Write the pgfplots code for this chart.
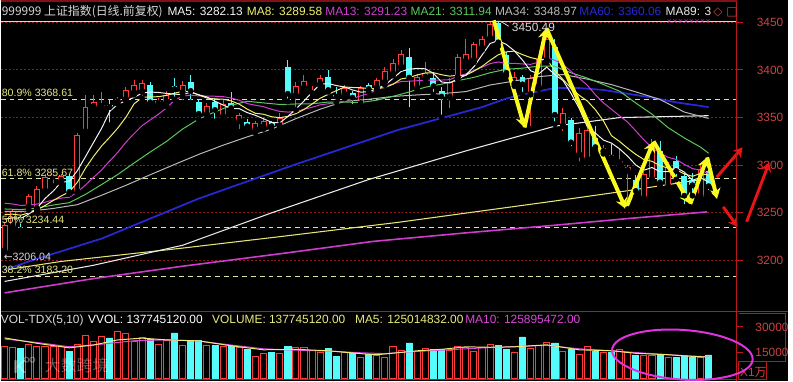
\documentclass[border=0pt]{standalone}
\usepackage{pgfplots}
\pgfplotsset{compat=1.18}
\usepackage{pgfplotstable}
\usetikzlibrary{arrows.meta}
\usepackage{fontspec}
\setmainfont{Liberation Sans}
\newfontfamily\cjk{Noto Sans CJK SC}
\newfontfamily\dvs{DejaVu Sans}

\definecolor{cred}{RGB}{255,60,60}
\definecolor{ccyan}{RGB}{84,252,252}
\definecolor{ma5}{RGB}{245,245,245}
\definecolor{ma8}{RGB}{240,240,110}
\definecolor{ma13}{RGB}{210,60,210}
\definecolor{ma21}{RGB}{90,200,90}
\definecolor{ma34}{RGB}{185,185,185}
\definecolor{ma60}{RGB}{40,40,215}
\definecolor{ma89}{RGB}{235,235,235}
\definecolor{lyel}{RGB}{230,230,120}
\definecolor{lmag}{RGB}{205,60,205}
\definecolor{fib}{RGB}{225,225,160}
\definecolor{fibtxt}{RGB}{230,230,130}
\definecolor{axred}{RGB}{185,25,25}
\definecolor{gridred}{RGB}{140,30,30}
\definecolor{lblred}{RGB}{205,65,65}
\definecolor{hdr}{RGB}{215,215,215}
\definecolor{zig}{RGB}{250,250,30}
\definecolor{arrred}{RGB}{235,20,20}
\definecolor{vma5}{RGB}{235,235,120}
\definecolor{vma10}{RGB}{220,70,220}
\definecolor{ellmag}{RGB}{225,50,225}

% up candles (close >= open): index, open, high, low, close, volume (x10^4)
\pgfplotstableread{
i o h l c v
0 3210 3240 3206.04 3237 18850
1 3235 3254 3232 3252 17880
3 3256 3270 3253 3268 19800
4 3254 3278 3252 3275 18850
5 3273 3291 3272 3288 18850
6 3288 3294 3278 3291 18850
7 3283 3291 3280 3289 18460
9 3272 3334 3270 3332 19800
10 3335 3374 3333 3361 24990
11 3361 3374 3358 3366 21730
12 3361 3377 3358 3363 24230
14 3366 3372 3364 3369 27500
15 3369 3382 3367 3379 25960
16 3376 3389 3374 3384 21350
17 3377 3389 3370 3386 23650
19 3364 3371 3360 3367 19800
20 3366 3378 3362 3374 22310
22 3376 3388 3372 3384 19230
25 3353 3365 3350 3362 19230
27 3351 3368 3348 3364 18850
29 3346 3355 3335 3353 17880
31 3337 3346 3334 3344 13080
32 3340 3350 3338 3346 14420
34 3341 3355 3340 3350 14610
36 3373 3387 3358 3383 17880
37 3381 3395 3379 3388 17880
38 3386 3388 3376 3387 16350
39 3385 3395 3383 3392 15380
42 3374 3384 3370 3381 15380
44 3364 3383 3361 3381 12500
46 3381 3392 3379 3389 13650
47 3387 3403 3384 3399 12110
48 3396 3412 3394 3407 18460
49 3403 3421 3402 3417 16540
51 3381 3396 3379 3393 15580
52 3392 3408 3390 3397 17500
55 3371 3392 3357 3387 16350
56 3392 3417 3390 3414 18850
57 3409 3433 3408 3417 18270
58 3410 3429 3408 3427 15580
59 3423 3436 3421 3433 18270
60 3433 3450 3432 3448 19800
63 3385 3398 3383 3393 15380
65 3374 3395 3338 3392 17310
66 3382 3415 3380 3412 19230
67 3410 3436 3408 3433 21150
69 3341 3360 3333 3355 15970
71 3311 3339 3301 3334 14040
72 3306 3340 3303 3337 18460
74 3314 3321 3312 3318 15000
76 3302 3317 3301 3304 16920
77 3294 3300 3254 3298 15380
79 3265 3294 3259 3291 13650
80 3285 3327 3281 3322 13650
82 3277 3303 3274 3298 12110
86 3267 3300 3264 3296 12500
}\upc

% down candles (close < open)
\pgfplotstableread{
i o h l c v
2 3246 3248 3232 3242 17310
8 3289 3291 3270 3272 15970
13 3363 3369 3342 3361 23650
18 3384 3387 3364 3366 22690
21 3383 3392 3369 3380 26540
23 3387 3395 3366 3378 22310
24 3366 3369 3348 3354 22310
26 3366 3371 3346 3358 19230
28 3365 3377 3358 3360 19230
30 3345 3348 3335 3341 16920
33 3345 3346 3337 3341 15380
35 3403 3410 3367 3375 18850
40 3393 3400 3377 3379 17310
41 3374 3382 3366 3372 13080
43 3376 3378 3361 3371 15380
45 3384 3386 3377 3380 14040
50 3414 3423 3358 3392 20770
53 3392 3398 3374 3383 16920
54 3378 3382 3350 3372 16920
61 3449 3450.49 3425 3429 19420
62 3416 3419 3394 3397 16920
64 3393 3395 3374 3385 24230
68 3424 3432 3343 3353 20770
70 3347 3350 3317 3324 16920
73 3329 3341 3315 3319 15970
75 3311 3322 3304 3308 15000
78 3285 3290 3267 3273 13460
81 3315 3325 3278 3282 13460
83 3304 3310 3285 3294 12500
84 3289 3292 3256 3268 13460
85 3284 3292 3268 3279 12500
87 3294 3298 3271 3278 13775
}\dnc

% short moving averages
\pgfplotstableread{
i ma5 ma8 ma13
0 3243.4 3248.4 3260.1
1 3244.8 3248.6 3259.3
2 3244.2 3247.6 3257.8
3 3248.8 3249.9 3258.2
4 3254.8 3253.0 3259.2
5 3265.0 3257.7 3261.2
6 3272.8 3262.9 3263.5
7 3282.2 3267.7 3265.5
8 3283.0 3272.1 3266.3
9 3294.4 3282.1 3271.7
10 3309.0 3297.0 3279.3
11 3324.0 3309.3 3287.3
12 3338.8 3320.3 3295.1
13 3356.6 3329.4 3304.6
14 3364.0 3339.1 3313.6
15 3367.6 3350.4 3324.2
16 3371.2 3364.4 3333.1
17 3375.8 3371.1 3341.6
18 3376.8 3371.8 3347.6
19 3376.4 3371.9 3353.5
20 3375.4 3373.3 3360.0
21 3374.6 3375.6 3368.3
22 3374.2 3377.5 3372.3
23 3376.6 3377.4 3373.6
24 3374.0 3373.6 3372.7
25 3371.6 3370.6 3372.6
26 3367.2 3369.6 3372.4
27 3363.2 3369.3 3372.0
28 3359.6 3367.5 3370.5
29 3359.4 3364.1 3368.2
30 3355.2 3358.8 3364.7
31 3352.4 3354.5 3363.0
32 3348.8 3353.5 3361.4
33 3345.0 3350.9 3358.8
34 3344.4 3349.9 3356.5
35 3351.2 3351.3 3355.8
36 3359.0 3354.1 3356.2
37 3367.4 3358.5 3358.8
38 3376.6 3364.3 3360.8
39 3385.0 3370.3 3363.4
40 3385.8 3374.4 3364.5
41 3383.6 3378.3 3365.5
42 3382.2 3382.1 3367.6
43 3379.0 3381.6 3369.9
44 3376.8 3381.4 3372.8
45 3377.0 3380.4 3375.4
46 3380.4 3380.6 3379.1
47 3384.0 3381.5 3382.8
48 3391.2 3385.0 3385.3
49 3398.4 3390.6 3387.9
50 3400.8 3392.0 3388.2
51 3401.6 3394.8 3388.7
52 3401.2 3396.8 3389.1
53 3396.4 3397.1 3389.4
54 3387.4 3395.0 3389.4
55 3386.4 3393.5 3389.8
56 3390.6 3394.4 3393.2
57 3394.6 3394.4 3395.9
58 3403.4 3398.8 3399.5
59 3415.6 3403.8 3402.9
60 3427.8 3410.1 3406.7
61 3430.8 3415.9 3408.4
62 3426.8 3419.0 3406.8
63 3420.0 3419.8 3406.9
64 3410.4 3416.1 3406.3
65 3399.2 3413.0 3405.9
66 3395.8 3411.1 3408.2
67 3403.0 3411.1 3412.8
68 3395.0 3399.3 3410.2
69 3389.0 3390.0 3405.7
70 3375.4 3380.9 3398.5
71 3359.8 3373.5 3391.4
72 3340.6 3367.5 3384.0
73 3333.8 3358.4 3374.1
74 3326.4 3346.6 3365.5
75 3323.2 3331.0 3358.7
76 3317.2 3324.9 3351.8
77 3309.4 3317.8 3345.2
78 3300.2 3311.4 3336.0
79 3294.8 3306.0 3326.7
80 3297.6 3304.1 3318.2
81 3293.2 3299.5 3312.7
82 3293.2 3297.0 3308.3
83 3297.4 3295.3 3306.0
84 3292.8 3290.8 3300.9
85 3284.2 3288.4 3296.5
86 3287.0 3291.3 3294.7
87 3282.1 3289.6 3291.2
}\matab

\pgfplotsset{
  candle/.style args={#1/#2}{only marks, mark=none, forget plot,
    error bars/.cd, y dir=plus, y explicit, error mark=none,
    error bar style={solid, line width=#2, draw=#1}},
}

\begin{document}
\begin{tikzpicture}
\fill[black] (0,0) rectangle (594.75pt,287.25pt);

% ---------------- price panel ----------------
\begin{axis}[
  at={(0pt,52.5pt)}, anchor=south west, scale only axis,
  width=556.5pt, height=234.75pt,
  xmin=-0.4905, xmax=90.497, ymin=3146.88, ymax=3472.92,
  clip=false,
  axis line style={draw=none},
  xtick=\empty,
  ytick={3200,3250,3300,3350,3400,3450},
  ytick pos=right, yticklabel pos=right,
  tick align=outside, major tick length=4.5pt,
  tick style={draw=axred, line width=0.75pt},
  yticklabel style={font=\fontsize{9}{10}\selectfont, text=lblred, xshift=7pt},
  scaled y ticks=false,
  /pgf/number format/assume math mode=true,
  /pgf/number format/1000 sep={},
  ymajorgrids, grid style={gridred, dash pattern=on 1.5pt off 1.5pt, line width=0.75pt},
]
% Fibonacci levels
\addplot[fib, line width=0.75pt, dash pattern=on 3.75pt off 3pt] coordinates {(-0.49,3368.61) (90.49,3368.61)};
\addplot[fib, line width=0.75pt, dash pattern=on 3.75pt off 3pt] coordinates {(-0.49,3285.67) (90.49,3285.67)};
\addplot[fib, line width=0.75pt, dash pattern=on 3.75pt off 3pt] coordinates {(-0.49,3234.44) (90.49,3234.44)};
\addplot[fib, line width=0.75pt, dash pattern=on 3.75pt off 3pt] coordinates {(-0.49,3183.20) (90.49,3183.20)};
\addplot[fib, line width=0.9pt] coordinates {(-0.49,3450.49) (90.49,3450.49)};

% long moving averages
\addplot[lmag, line width=1.2pt] coordinates {(0,3166) (11,3181) (22,3194) (34,3207) (45.5,3220) (57,3229) (68,3237) (77,3244) (86.8,3251)};
\addplot[lyel, line width=0.8pt] coordinates {(0,3190) (7,3199) (22,3213) (34,3225) (48.6,3240) (67.6,3262) (76.8,3273) (86.9,3286)};
\addplot[ma89, line width=0.8pt] coordinates {(0,3178) (11,3195) (22,3216) (33,3250) (45,3285) (57,3315) (68,3341) (76,3350) (87,3352)};
\addplot[ma60, line width=1.3pt] coordinates {(0,3190) (3,3199) (12,3223) (24,3265) (36,3301) (48.6,3337) (59,3361) (62,3370) (65,3376) (68,3381) (71,3381) (74,3379) (77,3375) (80,3371) (83,3366) (87,3361)};

% candles: wicks, bodies
\addplot[candle=cred/0.75pt] table[x=i, y=l, y error expr=\thisrow{h}-\thisrow{l}] \upc;
\addplot[candle=ccyan/0.75pt] table[x=i, y=l, y error expr=\thisrow{h}-\thisrow{l}] \dnc;
\addplot[candle=cred/4.5pt] table[x=i, y=o, y error expr={max(\thisrow{c}-\thisrow{o},1.1)}] \upc;
\addplot[candle=black/3pt] table[x=i, y expr=\thisrow{o}+1.05, y error expr={max(\thisrow{c}-\thisrow{o}-2.1,0)}] \upc;
\addplot[candle=ccyan/4.5pt] table[x=i, y=c, y error expr={max(\thisrow{o}-\thisrow{c},1.1)}] \dnc;

% moving averages
\addplot[ma34, line width=0.75pt] coordinates {(0,3251.6) (3,3251.7) (6,3254.6) (9,3258.6) (12,3268.5) (15,3278.9) (18,3290) (21,3300.8) (24,3311.4) (27,3321) (30,3329.8) (33,3337.9) (36,3348.9) (39,3358.8) (42,3367.1) (45,3369.2) (48,3372.2) (51,3373.8) (54,3375.1) (57,3377.3) (60,3384.2) (63,3388.4) (66,3393) (69,3395.2) (72,3390.4) (75,3384.6) (78,3377) (81,3369) (84,3355.8) (87,3349.1)};
\addplot[ma21, line width=0.75pt] coordinates {(0,3254.1) (2,3253.4) (4,3255) (6,3258.2) (8,3260.7) (10,3269.4) (12,3279.8) (14,3290.3) (16,3302.3) (18,3313.9) (20,3324.9) (22,3338) (24,3348.5) (26,3356) (28,3362.9) (30,3367.1) (32,3365.4) (34,3363.8) (36,3364.3) (38,3364.5) (40,3366.3) (42,3366.3) (44,3365.8) (46,3368.3) (48,3372.3) (50,3376.9) (52,3381.9) (54,3385.1) (56,3388.8) (58,3392.2) (60,3397.1) (62,3400.7) (64,3401.9) (66,3404) (68,3403.9) (70,3397) (72,3391.5) (74,3384.7) (76,3377.7) (78,3365.3) (80,3353.6) (82,3339.4) (84,3328.6) (86,3319) (87,3312.6)};
\addplot[ma13, line width=0.75pt] table[x=i, y=ma13] \matab;
\addplot[ma8, line width=0.75pt] table[x=i, y=ma8] \matab;
\addplot[ma5, line width=0.75pt] table[x=i, y=ma5] \matab;

% hand-drawn annotations
\addplot[zig, line width=3pt, -{Stealth[length=8pt,width=9pt]}] coordinates {(60.45,3452.1) (64.25,3339.6)};
\addplot[zig, line width=3pt, -{Stealth[length=8pt,width=9pt]}] coordinates {(64.25,3339.6) (66.95,3443.8)};
\addplot[zig, line width=3pt, -{Stealth[length=8pt,width=9pt]}] coordinates {(66.95,3443.8) (76.76,3254.2)};
\addplot[zig, line width=3pt, -{Stealth[length=8pt,width=9pt]}] coordinates {(76.76,3254.2) (80.2,3325.0)};
\addplot[zig, line width=3pt, -{Stealth[length=8pt,width=9pt]}] coordinates {(80.2,3325.0) (84.73,3259.4)};
\addplot[zig, line width=3pt, -{Stealth[length=8pt,width=9pt]}] coordinates {(84.73,3259.4) (86.82,3308.3)};
\addplot[zig, line width=3pt, -{Stealth[length=8pt,width=9pt]}] coordinates {(86.82,3308.3) (88.04,3264.6)};
\addplot[arrred, line width=2.2pt, -{Stealth[length=7pt,width=8pt]}] coordinates {(88.0,3287.5) (91.2,3318.7)};
\addplot[arrred, line width=2.2pt, -{Stealth[length=7pt,width=8pt]}] coordinates {(88.8,3256.3) (90.6,3235.4)};
\addplot[arrred, line width=2.2pt, -{Stealth[length=7pt,width=8pt]}] coordinates {(91.7,3240.6) (94.5,3303.1)};
\end{axis}

% ---------------- volume panel ----------------
\begin{axis}[
  at={(0pt,0pt)}, anchor=south west, scale only axis,
  width=556.5pt, height=52.5pt,
  xmin=-0.4905, xmax=90.497, ymin=-1154, ymax=39229,
  axis line style={draw=none},
  xtick=\empty,
  ytick={15000,30000},
  ytick pos=right, yticklabel pos=right,
  tick align=outside, major tick length=4.5pt,
  tick style={draw=axred, line width=0.75pt},
  yticklabel style={font=\fontsize{9}{10}\selectfont, text=lblred, xshift=6pt},
  scaled y ticks=false,
  /pgf/number format/assume math mode=true,
  /pgf/number format/1000 sep={},
]
\addplot[ybar, bar width=4.6pt, bar shift=0pt, draw=cred, fill=black, line width=0.75pt] table[x=i, y=v] \upc;
\addplot[ybar, bar width=4.6pt, bar shift=0pt, draw=ccyan, fill=ccyan, line width=0.5pt] table[x=i, y=v] \dnc;
\addplot[vma10, line width=0.75pt] coordinates {(0,23000) (4,21000) (8,18500) (12,20000) (16,22000) (20,22500) (24,21800) (28,19500) (32,17300) (36,16500) (40,16000) (44,15000) (47,14500) (51,15800) (55,16800) (59,17800) (63,18600) (67,19300) (71,17300) (75,16200) (79,14800) (83,13600) (87,12590)};
\addplot[vma5, line width=0.75pt] coordinates {(0,23650) (4,20500) (8,17880) (11,19500) (14,22500) (17,23500) (20,22500) (24,21900) (28,19040) (32,16730) (36,17000) (40,16150) (44,14500) (46,13850) (51,16150) (54,17000) (57,18460) (60,18200) (63,18460) (67,19610) (71,16730) (75,16150) (78,14700) (82,13850) (85,12900) (87,12502)};
\end{axis}

% ---------------- frame, texts, decorations ----------------
\begin{scope}[x=0.75pt, y=0.75pt]
\draw[axred, line width=0.75pt] (742,0) -- (742,383);
\draw[axred!70!black, line width=0.9pt] (0,382.5) -- (742,382.5);
\draw[axred, line width=0.75pt] (0,70) -- (793,70);
\draw[axred, line width=0.75pt] (0,1) -- (742,1);
\draw[axred, line width=0.75pt] (744,68) -- (791,68) -- (791,19) -- (744,19);
\draw[axred, line width=0.75pt] (744,19) rectangle (772,1);
\node[anchor=base west, inner sep=0, text=lblred, font=\fontsize{9}{10}\selectfont] at (745,4) {X1{\cjk 万}};

% magenta ellipse annotation
\draw[ellmag, line width=1.5pt, rotate around={-4:(687,26)}] (687,26) ellipse [x radius=71, y radius=25];

% header of price panel
\begin{scope}[every node/.style={anchor=base west, inner sep=0, font=\fontsize{9}{10}\selectfont}]
\node[text=hdr, font=\cjk\fontsize{9}{10}\selectfont] at (1,368) {999999 上证指数(日线.前复权)};
\node[text=ma5] at (168,368) {MA5: 3282.13};
\node[text=ma8] at (248,368) {MA8: 3289.58};
\node[text=ma13] at (327,368) {MA13: 3291.23};
\node[text=ma21] at (413,368) {MA21: 3311.94};
\node[text=ma34] at (498,368) {MA34: 3348.97};
\node[text=ma60] at (583,368) {MA60: 3360.06};
\node[text=ma89] at (670,368) {MA89: 3};
\node[text=lblred, font=\dvs\fontsize{9}{10}\selectfont] at (718,368) {◇};
\node[text=lblred, font=\dvs\fontsize{9}{10}\selectfont] at (731,368) {□};
\node[text=lmag, font=\dvs\fontsize{5}{5}\selectfont] at (671,360) {××××××××};
% volume header
\node[text=hdr] at (0,57) {VOL-TDX(5,10)};
\node[text=white] at (88,57) {VVOL: 137745120.00};
\node[text=vma5] at (213,57) {VOLUME: 137745120.00};
\node[text=vma5] at (357,57) {MA5: 125014832.00};
\node[text=vma10] at (468,57) {MA10: 125895472.00};
\end{scope}

% Fibonacci labels and price marks
\begin{scope}[every node/.style={anchor=base west, inner sep=0, font=\fontsize{8}{9}\selectfont, text=fibtxt}]
\node at (1,286) {80.9\% 3368.61};
\node at (1,206) {61.8\% 3285.67};
\node at (1,158) {50\% 3234.44};
\node at (1,108) {38.2\% 3183.20};
\node[text=hdr] at (3,121) {{\dvs ←}3206.04};
\node[text=hdr, font=\fontsize{9}{10}\selectfont] at (515,352) {3450.49};
\end{scope}
\draw[hdr, line width=0.6pt] (500,362) -- (504,362) -- (512,357);

% watermark
\node[text=white, opacity=0.35, font=\cjk\fontsize{12}{12}\selectfont, anchor=west] at (40,15) {大数跨境};
\node[text=white, opacity=0.35, font=\fontsize{14}{14}\selectfont\bfseries, anchor=west] at (8,14) {K};
\draw[white, opacity=0.35, line width=0.8pt] (26,21) circle (2.5) (32,21) circle (2.5);
\end{scope}
\end{tikzpicture}
\end{document}
